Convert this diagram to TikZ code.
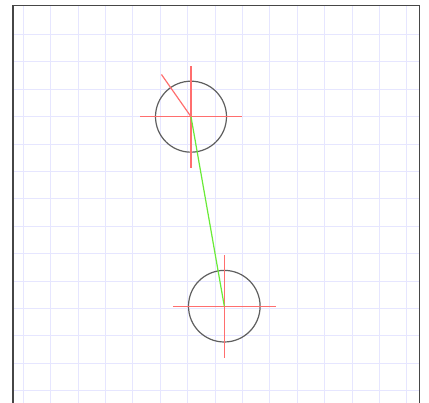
\documentclass[tikz,border=0pt]{standalone}
\usepackage{tikz}

\definecolor{gridblue}{RGB}{230,230,255}
\definecolor{crossred}{RGB}{255,110,110}
\definecolor{linkgreen}{RGB}{105,235,55}
\definecolor{ringgray}{RGB}{95,95,95}
\definecolor{framegray}{RGB}{70,70,70}

\begin{document}
\begin{tikzpicture}[x=1pt,y=1pt]

    \tikzset{
      gridline/.style={
        color={gridblue},
        line width=1,
      },
      ring/.style={
        color={ringgray},
        line width=1.2,
      },
      crosshair/.style={
        color={crossred},
        line width=1.2,
      },
    }

	\useasboundingbox[fill=white] (0,0) rectangle (429,403);
	\draw[gridline] (23.3,-10)--(23.3,397.5);
	\draw[gridline] (50.7,-10)--(50.7,397.5);
	\draw[gridline] (78.1,-10)--(78.1,397.5);
	\draw[gridline] (105.5,-10)--(105.5,397.5);
	\draw[gridline] (132.9,-10)--(132.9,397.5);
	\draw[gridline] (160.3,-10)--(160.3,397.5);
	\draw[gridline] (187.7,-10)--(187.7,397.5);
	\draw[gridline] (215.1,-10)--(215.1,397.5);
	\draw[gridline] (242.5,-10)--(242.5,397.5);
	\draw[gridline] (269.9,-10)--(269.9,397.5);
	\draw[gridline] (297.3,-10)--(297.3,397.5);
	\draw[gridline] (324.7,-10)--(324.7,397.5);
	\draw[gridline] (352.1,-10)--(352.1,397.5);
	\draw[gridline] (379.5,-10)--(379.5,397.5);
	\draw[gridline] (406.9,-10)--(406.9,397.5);
	\draw[gridline] (13,368.5)--(419.5,368.5);
	\draw[gridline] (13,341.1)--(419.5,341.1);
	\draw[gridline] (13,313.7)--(419.5,313.7);
	\draw[gridline] (13,286.3)--(419.5,286.3);
	\draw[gridline] (13,258.9)--(419.5,258.9);
	\draw[gridline] (13,231.5)--(419.5,231.5);
	\draw[gridline] (13,204.1)--(419.5,204.1);
	\draw[gridline] (13,176.7)--(419.5,176.7);
	\draw[gridline] (13,149.3)--(419.5,149.3);
	\draw[gridline] (13,121.9)--(419.5,121.9);
	\draw[gridline] (13,94.5)--(419.5,94.5);
	\draw[gridline] (13,67.1)--(419.5,67.1);
	\draw[gridline] (13,39.7)--(419.5,39.7);
	\draw[gridline] (13,12.3)--(419.5,12.3);
	\draw[color={framegray},line width=1.4] (13,-10)--(13,397.5)--(419.5,397.5)--(419.5,-10);

	% upper body
	\coordinate (top) at (191,286.3);
	\draw[ring] (top) circle (35.5);
	\draw[crosshair] ([xshift=-51]top)--([xshift=51]top);
	\draw[crosshair] ([yshift=-51]top)--([yshift=51]top);
	\draw[crosshair] (top)--++(125:51.5);

	% lower body
	\coordinate (bottom) at (224.3,96.8);
	\draw[ring] (bottom) circle (35.8);
	\draw[crosshair] ([xshift=-51.5]bottom)--([xshift=51.5]bottom);
	\draw[crosshair] ([yshift=-51.5]bottom)--([yshift=51.5]bottom);

	\draw[color={linkgreen},line width=1.2] (top)--(bottom);

\end{tikzpicture}
\end{document}
